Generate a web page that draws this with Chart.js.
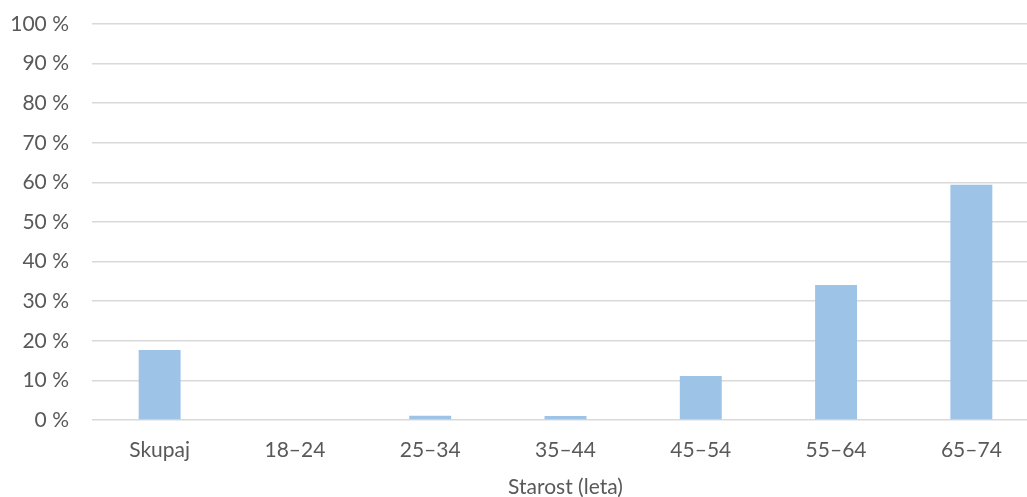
<!DOCTYPE html>
<html>
<head>
<meta charset="utf-8">
<script src="https://cdn.jsdelivr.net/npm/chart.js@4"></script>
<style>
  html, body { margin: 0; padding: 0; background: #fff; overflow: hidden; }
  #wrap { width: 1045px; height: 497px; position: relative; }
</style>
</head>
<body>
<div id="wrap"><canvas id="ageChart"></canvas></div>
<script>
const categories = ["Skupaj", "18–24", "25–34", "35–44", "45–54", "55–64", "65–74"];
const shares = [17.7, 0, 1.1, 1.0, 11.1, 34.1, 59.4];
const axisTitle = "Starost (leta)";

(function () {
  const textColor = "#595959";
  const gridColor = "#d9d9d9";
  const font = { family: "Lato, 'Open Sans', sans-serif", size: 21 };

  const ctx = document.getElementById("ageChart").getContext("2d");
  new Chart(ctx, {
    type: "bar",
    data: {
      labels: categories,
      datasets: [
        {
          label: "Delež",
          data: shares,
          backgroundColor: "#9dc3e6",
          borderWidth: 0,
          categoryPercentage: 1,
          barPercentage: 0.31,
        },
      ],
    },
    options: {
      responsive: true,
      maintainAspectRatio: false,
      animation: false,
      layout: { padding: { top: 24, right: 6, left: 0, bottom: 0 } },
      plugins: { legend: { display: false }, tooltip: { enabled: false } },
      scales: {
        y: {
          min: 0,
          max: 100,
          ticks: {
            stepSize: 10,
            padding: 23,
            color: textColor,
            font: font,
            callback: (v) => v + " %",
          },
          grid: { color: gridColor, lineWidth: 1.5, drawTicks: false },
          border: { display: false },
          afterFit: (s) => {
            s.width = 92;
            s.paddingTop = 0;
            s.paddingBottom = 0;
          },
        },
        x: {
          ticks: { color: textColor, font: font, padding: 18, maxRotation: 0 },
          grid: { display: false, drawTicks: false },
          border: { display: false },
          title: {
            display: true,
            text: axisTitle,
            color: textColor,
            font: font,
            padding: { top: 0, bottom: -3 },
          },
          afterFit: (s) => {
            s.height = 77;
            s.paddingLeft = 0;
            s.paddingRight = 0;
          },
        },
      },
    },
  });
})();
</script>
</body>
</html>
